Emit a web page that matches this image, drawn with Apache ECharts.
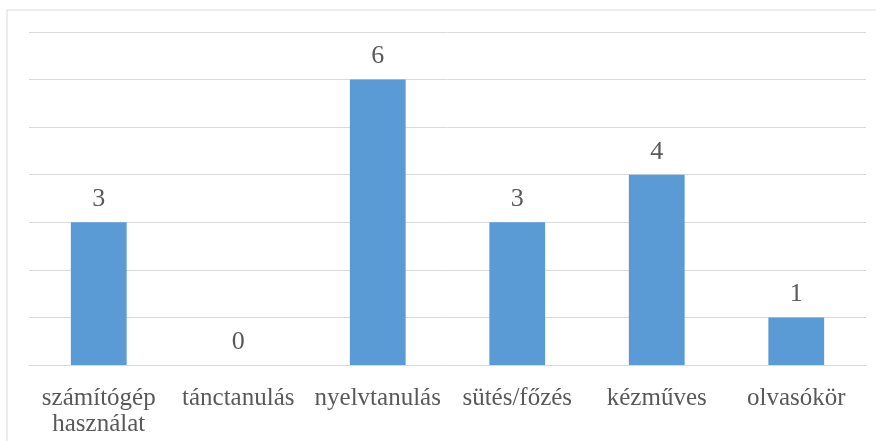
<!DOCTYPE html>
<html>
<head>
<meta charset="utf-8">
<script src="https://cdn.jsdelivr.net/npm/echarts@6/dist/echarts.min.js"></script>
<style>
  html, body { margin: 0; padding: 0; background: #fff; }
  #main { width: 876px; height: 441px; }
</style>
</head>
<body>
<div id="main"></div>
<script>
var categories = ['számítógép\nhasználat', 'tánctanulás', 'nyelvtanulás', 'sütés/főzés', 'kézműves', 'olvasókör'];
var values = [3, 0, 6, 3, 4, 1];

var chart = echarts.init(document.getElementById('main'));

chart.setOption({
    animation: false,
    backgroundColor: '#fff',
    graphic: [{
        type: 'rect',
        shape: { x: 7, y: 10, width: 880, height: 450 },
        style: { fill: 'none', stroke: '#d9d9d9', lineWidth: 1 },
        silent: true
    }],
    grid: { left: 29, right: 10, top: 32, bottom: 76 },
    xAxis: {
        type: 'category',
        data: categories,
        axisLine: { lineStyle: { color: '#d9d9d9' } },
        axisTick: { show: false },
        axisLabel: {
            color: '#595959',
            fontFamily: 'Liberation Serif',
            fontSize: 25,
            lineHeight: 26,
            margin: 20,
            interval: 0
        }
    },
    yAxis: {
        type: 'value',
        min: 0,
        max: 7,
        interval: 1,
        axisLabel: { show: false },
        axisLine: { show: false },
        axisTick: { show: false },
        splitLine: { lineStyle: { color: '#d9d9d9', width: 1 } }
    },
    series: [{
        type: 'bar',
        data: values,
        barWidth: '40%',
        itemStyle: { color: '#5b9bd5' },
        label: {
            show: true,
            position: 'top',
            distance: 10,
            color: '#595959',
            fontFamily: 'Liberation Serif',
            fontSize: 26
        }
    }]
});
</script>
</body>
</html>
